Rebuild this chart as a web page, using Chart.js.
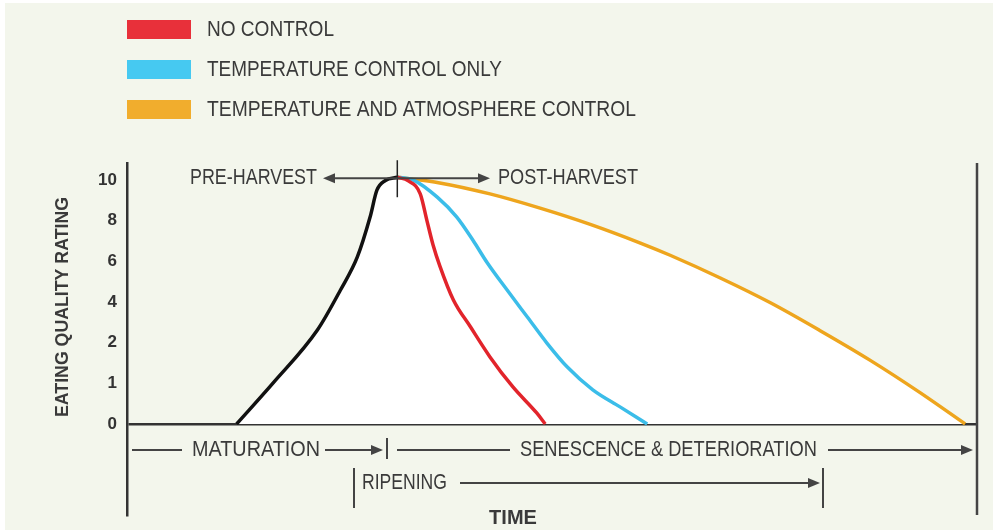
<!DOCTYPE html>
<html>
<head>
<meta charset="utf-8">
<script src="https://cdn.jsdelivr.net/npm/chart.js@4/dist/chart.umd.min.js"></script>
<style>
  html, body { margin: 0; padding: 0; background: #fff; }
  #wrap { width: 993px; height: 530px; }
</style>
</head>
<body>
<div id="wrap"><canvas id="myChart" width="993" height="530"></canvas></div>
<script>
// rating ticks are evenly spaced, so y values are given in tick steps (0..6)
const ratingLabels = ["0", "1", "2", "4", "6", "8", "10"];

// time has no scale: 0 = left axis, 100 = right edge
const ripeningX = [12.9, 17.2, 22.4, 25.1, 27.1, 28.6, 29.4, 30.4, 31.8];
const ripeningY = [0, 1.01, 2.31, 3.29, 4.11, 5.09, 5.75, 5.99, 6.07];

const noControlX = [31.8, 33.1, 34.5, 35.3, 36.0, 36.8, 38.4, 40.4, 42.7, 45.4, 48.2, 49.2];
const noControlY = [6.07, 5.98, 5.66, 4.99, 4.41, 3.89, 3.05, 2.39, 1.65, 0.91, 0.27, 0];

const tempOnlyX = [31.8, 33.7, 36.5, 38.8, 40.7, 42.4, 44.7, 47.1, 49.4, 51.8, 54.8, 58.0, 61.2];
const tempOnlyY = [6.07, 6.0, 5.58, 5.09, 4.52, 3.96, 3.3, 2.63, 1.99, 1.4, 0.84, 0.42, 0];

const tempAtmoX = [31.8, 36.8, 42.7, 48.6, 54.5, 60.4, 63.9, 69.8, 75.7, 81.5, 87.4, 93.3, 98.6];
const tempAtmoY = [6.07, 5.93, 5.66, 5.31, 4.91, 4.45, 4.15, 3.59, 2.98, 2.3, 1.57, 0.77, 0];

const seriesNames = ["NO CONTROL", "TEMPERATURE CONTROL ONLY", "TEMPERATURE AND ATMOSPHERE CONTROL"];

const FONT = "'Liberation Sans', Arial, sans-serif";
const TEXT = "#3a3a3a";
const LINE = "#444";

function toPoints(xs, ys) {
  return xs.map((x, i) => ({ x: x, y: ys[i] }));
}

// white area under the best case: ripening, then temperature + atmosphere
const envelope = toPoints(ripeningX, ripeningY).concat(toPoints(tempAtmoX, tempAtmoY).slice(1));

function drawText(ctx, str, x, y, w, align, font) {
  ctx.font = font || "22px " + FONT;
  ctx.textAlign = align;
  ctx.textBaseline = "middle";
  ctx.fillStyle = TEXT;
  ctx.fillText(str, x, y, w);
}

function hLine(ctx, x1, x2, y) {
  ctx.beginPath();
  ctx.moveTo(x1, y);
  ctx.lineTo(x2, y);
  ctx.stroke();
}

function vLine(ctx, x, y1, y2) {
  ctx.beginPath();
  ctx.moveTo(x, y1);
  ctx.lineTo(x, y2);
  ctx.stroke();
}

// tip at x,y; dir 1 = right, -1 = left
function arrowHead(ctx, x, y, dir) {
  ctx.fillStyle = LINE;
  ctx.beginPath();
  ctx.moveTo(x, y);
  ctx.lineTo(x - dir * 12, y - 5);
  ctx.lineTo(x - dir * 12, y + 5);
  ctx.closePath();
  ctx.fill();
}

const background = {
  id: "background",
  beforeDraw(chart) {
    const ctx = chart.ctx;
    ctx.save();
    ctx.fillStyle = "#f3f6ec";
    ctx.fillRect(5, 3, chart.width - 5, chart.height - 3);
    ctx.restore();
  },
};

const legendBox = {
  id: "legendBox",
  afterDraw(chart) {
    const ctx = chart.ctx;
    const widths = [127, 295, 429];
    ctx.save();
    for (let i = 0; i < 3; i++) {
      const ds = chart.data.datasets[i];
      const top = 20 + i * 40;
      ctx.fillStyle = ds.swatch;
      ctx.fillRect(127, top, 64, 19);
      drawText(ctx, ds.label, 207, top + 10, widths[i], "left");
    }
    ctx.restore();
  },
};

const decor = {
  id: "decor",
  afterDraw(chart) {
    const ctx = chart.ctx;
    const area = chart.chartArea;
    const x = chart.scales.x;
    const y = chart.scales.y;
    const peakX = x.getPixelForValue(ripeningX[ripeningX.length - 1]);
    const peakY = y.getPixelForValue(ripeningY[ripeningY.length - 1]) + 1;

    ctx.save();
    ctx.strokeStyle = LINE;

    // right frame line
    ctx.lineWidth = 2.5;
    vLine(ctx, area.right, area.top, area.bottom);

    // harvest marker and arrows
    ctx.lineWidth = 1.5;
    ctx.strokeStyle = "#222";
    vLine(ctx, peakX, peakY - 18, peakY + 19);
    ctx.strokeStyle = LINE;
    ctx.lineWidth = 2;
    hLine(ctx, peakX, 333, peakY);
    arrowHead(ctx, 323, peakY, -1);
    hLine(ctx, peakX, 480, peakY);
    arrowHead(ctx, 490, peakY, 1);
    drawText(ctx, "PRE-HARVEST", 317, peakY, 127, "right");
    drawText(ctx, "POST-HARVEST", 498, peakY, 140, "left");

    // stages along time axis
    const row1 = 450;
    const row2 = 483;
    ctx.strokeStyle = LINE;
    ctx.lineWidth = 2;
    hLine(ctx, 132, 182, row1);
    drawText(ctx, "MATURATION", 192, row1, 128, "left");
    hLine(ctx, 325, 373, row1);
    arrowHead(ctx, 383, row1, 1);
    vLine(ctx, 387, row1 - 12, row1 + 9);
    hLine(ctx, 397, 510, row1);
    drawText(ctx, "SENESCENCE & DETERIORATION", 520, row1, 297, "left");
    hLine(ctx, 828, 963, row1);
    arrowHead(ctx, 973, row1, 1);

    vLine(ctx, 354, row2 - 15, row2 + 25);
    drawText(ctx, "RIPENING", 362, row2, 85, "left");
    hLine(ctx, 460, 810, row2);
    arrowHead(ctx, 820, row2, 1);
    vLine(ctx, 823, row2 - 15, row2 + 25);

    // axis titles
    drawText(ctx, "TIME", 513, 518, 49, "center", "bold 20px " + FONT);
    ctx.translate(63, 307);
    ctx.rotate(-Math.PI / 2);
    drawText(ctx, "EATING QUALITY RATING", 0, 0, 220, "center", "bold 19px " + FONT);
    ctx.restore();
  },
};

const ctx = document.getElementById("myChart").getContext("2d");

const myChart = new Chart(ctx, {
  type: "line",
  data: {
    datasets: [
      {
        label: seriesNames[0],
        data: toPoints(noControlX, noControlY),
        borderColor: "#e2242b",
        swatch: "#e8303a",
      },
      {
        label: seriesNames[1],
        data: toPoints(tempOnlyX, tempOnlyY),
        borderColor: "#3bbde9",
        swatch: "#46c9f1",
      },
      {
        label: seriesNames[2],
        data: toPoints(tempAtmoX, tempAtmoY),
        borderColor: "#eea51d",
        swatch: "#f1ad2d",
      },
      {
        label: "ripening",
        data: toPoints(ripeningX, ripeningY),
        borderColor: "#111",
      },
      {
        label: "envelope",
        data: envelope,
        borderWidth: 0,
        borderColor: "transparent",
        fill: { target: "origin", above: "#ffffff" },
      },
    ],
  },
  options: {
    responsive: false,
    animation: false,
    layout: { padding: { top: 163, right: 16, bottom: 15, left: 0 } },
    elements: {
      point: { radius: 0 },
      line: { borderWidth: 3.5, cubicInterpolationMode: "monotone", fill: false },
    },
    plugins: {
      legend: { display: false },
      tooltip: { enabled: false },
      filler: { drawTime: "beforeDatasetsDraw" },
    },
    scales: {
      x: { type: "linear", min: 0, max: 100, display: false },
      y: {
        min: -2.24,
        max: 6.42,
        z: 1,
        afterBuildTicks: (scale) => {
          scale.ticks = ratingLabels.map((_, i) => ({ value: i }));
        },
        afterFit: (scale) => {
          scale.width = 127;
          scale.paddingTop = 0;
          scale.paddingBottom = 0;
        },
        ticks: {
          callback: (value) => ratingLabels[value],
          color: "#333",
          padding: 10,
          font: { family: FONT, weight: "bold", size: 17 },
        },
        grid: {
          drawTicks: false,
          lineWidth: 2.5,
          color: (c) => (c.tick && c.tick.value === 0 ? "#333" : "transparent"),
        },
        border: { color: "#333", width: 2.5 },
      },
    },
  },
  plugins: [background, legendBox, decor],
});
</script>
</body>
</html>
